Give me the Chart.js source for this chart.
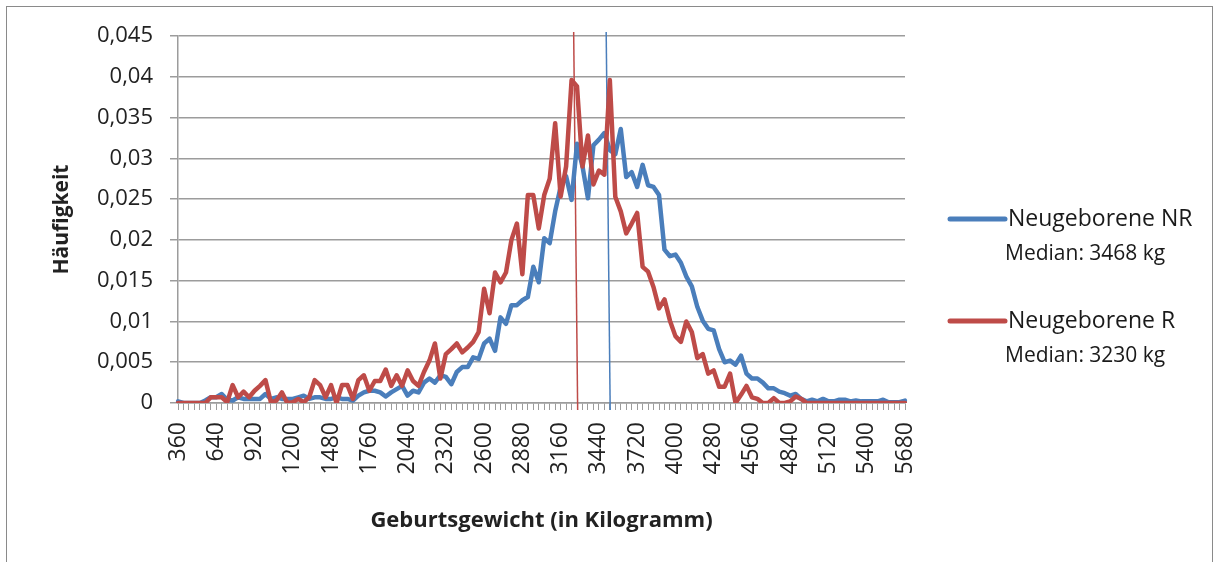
<!DOCTYPE html>
<html>
<head>
<meta charset="utf-8">
<script src="https://cdn.jsdelivr.net/npm/chart.js@4.4.1/dist/chart.umd.min.js"></script>
<style>
  html, body { margin: 0; padding: 0; background: #fff; }
  #wrap { position: relative; width: 1215px; height: 562px; overflow: hidden; }
  #frame { position: absolute; left: 6px; top: 6px; width: 1205px; height: 600px; border: 1px solid #8a8a8a; }
  #chart { position: absolute; left: 0; top: 0; }
</style>
</head>
<body>
<div id="wrap">
  <div id="frame"></div>
  <canvas id="chart" width="1215" height="562"></canvas>
</div>
<script>
// birth weight classes (g), each label is the upper bound of its 40 g class
const categories = [
  360, 400, 440, 480, 520, 560, 600, 640, 680, 720,
  760, 800, 840, 880, 920, 960, 1000, 1040, 1080, 1120,
  1160, 1200, 1240, 1280, 1320, 1360, 1400, 1440, 1480, 1520,
  1560, 1600, 1640, 1680, 1720, 1760, 1800, 1840, 1880, 1920,
  1960, 2000, 2040, 2080, 2120, 2160, 2200, 2240, 2280, 2320,
  2360, 2400, 2440, 2480, 2520, 2560, 2600, 2640, 2680, 2720,
  2760, 2800, 2840, 2880, 2920, 2960, 3000, 3040, 3080, 3120,
  3160, 3200, 3240, 3280, 3320, 3360, 3400, 3440, 3480, 3520,
  3560, 3600, 3640, 3680, 3720, 3760, 3800, 3840, 3880, 3920,
  3960, 4000, 4040, 4080, 4120, 4160, 4200, 4240, 4280, 4320,
  4360, 4400, 4440, 4480, 4520, 4560, 4600, 4640, 4680, 4720,
  4760, 4800, 4840, 4880, 4920, 4960, 5000, 5040, 5080, 5120,
  5160, 5200, 5240, 5280, 5320, 5360, 5400, 5440, 5480, 5520,
  5560, 5600, 5640, 5680
];

const tickLabels = [360, 640, 920, 1200, 1480, 1760, 2040, 2320, 2600, 2880,
  3160, 3440, 3720, 4000, 4280, 4560, 4840, 5120, 5400, 5680];

const seriesNames = ['Neugeborene NR', 'Neugeborene R'];
const medians = [3468, 3230];

const valuesNR = [
  0.0002, 0, 0, 0, 0, 0.0003, 0.0007, 0.0007, 0.0011, 0.0004,
  0.0003, 0.0007, 0.0005, 0.0005, 0.0005, 0.0005, 0.0011, 0.0005, 0.0007, 0.0005,
  0.0005, 0.0005, 0.0007, 0.0009, 0.0005, 0.0007, 0.0007, 0.0005, 0.0005, 0.0007,
  0.0005, 0.0005, 0.0003, 0.0009, 0.0013, 0.0015, 0.0015, 0.0013, 0.0008, 0.0013,
  0.0017, 0.0021, 0.0009, 0.0015, 0.0013, 0.0025, 0.003, 0.0025, 0.0034, 0.0032,
  0.0023, 0.0038, 0.0044, 0.0044, 0.0056, 0.0054, 0.0073, 0.0079, 0.0064, 0.0105,
  0.0097, 0.012, 0.012, 0.0126, 0.013, 0.0167, 0.0148, 0.0202, 0.0196, 0.0235,
  0.0265, 0.0278, 0.0249, 0.0318, 0.029, 0.0251, 0.0316, 0.0323, 0.0331, 0.031,
  0.0305, 0.0336, 0.0277, 0.0283, 0.0265, 0.0292, 0.0267, 0.0265, 0.0255, 0.0188,
  0.018, 0.0182, 0.0172, 0.0155, 0.0143, 0.0118, 0.0101, 0.0091, 0.0089, 0.0066,
  0.005, 0.0052, 0.0047, 0.0058, 0.0036, 0.003, 0.003, 0.0025, 0.0018, 0.0018,
  0.0014, 0.0012, 0.0009, 0.0011, 0.0005, 0.0002, 0.0004, 0.0002, 0.0005, 0.0002,
  0.0002, 0.0004, 0.0004, 0.0002, 0.0003, 0.0002, 0.0002, 0.0002, 0.0002, 0.0004,
  0.0001, 0.0001, 0.0001, 0.0003
];

const valuesR = [
  0, 0, 0, 0, 0, 0, 0.0007, 0.0007, 0.0007, 0.0001,
  0.0022, 0.0007, 0.0014, 0.0007, 0.0015, 0.0021, 0.0028, 0.0001, 0.0003, 0.0013,
  0, 0.0001, 0.0005, 0.0001, 0.0007, 0.0028, 0.0022, 0.0007, 0.0022, 0,
  0.0022, 0.0022, 0.0005, 0.0028, 0.0034, 0.0015, 0.0027, 0.0027, 0.0041, 0.0021,
  0.0034, 0.0021, 0.004, 0.0027, 0.0021, 0.0038, 0.0052, 0.0073, 0.003, 0.006,
  0.0066, 0.0073, 0.0062, 0.0068, 0.0075, 0.0087, 0.014, 0.011, 0.016, 0.0148,
  0.016, 0.02, 0.022, 0.0158, 0.0255, 0.0255, 0.0214, 0.0255, 0.0275, 0.0343,
  0.0253, 0.029, 0.0396, 0.0388, 0.029, 0.0328, 0.0268, 0.0285, 0.028, 0.0396,
  0.0253, 0.0235, 0.0208, 0.022, 0.0233, 0.0167, 0.0161, 0.0142, 0.0116, 0.0127,
  0.0101, 0.0082, 0.0075, 0.01, 0.0087, 0.0055, 0.006, 0.0036, 0.004, 0.002,
  0.002, 0.0036, 0, 0.001, 0.0021, 0.0007, 0.0005, 0, 0, 0.0006,
  0, 0, 0.0002, 0.0008, 0.0005, 0, 0, 0, 0, 0,
  0, 0, 0, 0, 0, 0, 0, 0, 0, 0,
  0, 0, 0, 0
];

const colors = ['#4a7ebb', '#be4b48'];
const FONT = '"Open Sans", "Liberation Sans", sans-serif';
const gridGrey = '#9c9c9c';

// vertical median markers, drawn under the series
const medianLines = {
  id: 'medianLines',
  beforeDatasetsDraw(chart) {
    const { ctx, chartArea, scales } = chart;
    const step = categories[1] - categories[0];
    medians.forEach((m, i) => {
      // class labels are upper bounds, so shift by one class
      const px = scales.x.getPixelForValue((m - categories[0]) / step + 1);
      ctx.save();
      ctx.strokeStyle = colors[i];
      ctx.lineWidth = 1.5;
      ctx.beginPath();
      ctx.moveTo(px - 2, chartArea.top - 4);
      ctx.lineTo(px + 2, chartArea.bottom + 7);
      ctx.stroke();
      ctx.restore();
    });
  }
};

// legend on the right with the median under each entry
const sideLegend = {
  id: 'sideLegend',
  afterDraw(chart) {
    const { ctx, chartArea } = chart;
    const x0 = chartArea.right + 45;
    const rowY = [chartArea.top + 183, chartArea.top + 285];
    seriesNames.forEach((name, i) => {
      const y = rowY[i];
      ctx.save();
      ctx.strokeStyle = colors[i];
      ctx.lineWidth = 5;
      ctx.lineCap = 'round';
      ctx.beginPath();
      ctx.moveTo(x0, y);
      ctx.lineTo(x0 + 55, y);
      ctx.stroke();
      ctx.fillStyle = '#1a1a1a';
      ctx.textBaseline = 'middle';
      ctx.textAlign = 'left';
      ctx.font = '23px ' + FONT;
      ctx.fillText(name, x0 + 58, y);
      ctx.font = '21px ' + FONT;
      ctx.fillText('Median: ' + medians[i] + ' kg', x0 + 55, y + 35);
      ctx.restore();
    });
  }
};

new Chart(document.getElementById('chart'), {
  type: 'line',
  data: {
    labels: categories,
    datasets: [
      { label: seriesNames[0], data: valuesNR, borderColor: colors[0], order: 1 },
      { label: seriesNames[1], data: valuesR, borderColor: colors[1], order: 0 }
    ]
  },
  options: {
    responsive: false,
    animation: false,
    layout: { padding: { left: 0, right: 310, top: 36, bottom: 0 } },
    elements: {
      line: { borderWidth: 4.5, tension: 0, borderJoinStyle: 'round', borderCapStyle: 'round', fill: false },
      point: { radius: 0 }
    },
    plugins: {
      legend: { display: false },
      tooltip: { enabled: false }
    },
    scales: {
      x: {
        offset: false,
        afterFit: s => { s.height = 159; },
        grid: { drawOnChartArea: false, drawTicks: true, tickLength: 7, color: gridGrey, lineWidth: 1 },
        border: { color: gridGrey, width: 1.5 },
        ticks: {
          autoSkip: false,
          maxRotation: 90,
          minRotation: 90,
          padding: 12,
          color: '#222',
          font: { family: FONT, size: 23 },
          callback: function (val, index) {
            const c = categories[index];
            return tickLabels.includes(c) ? String(c) : '';
          }
        },
        title: {
          display: true,
          text: 'Geburtsgewicht (in Kilogramm)',
          color: '#222',
          font: { family: FONT, size: 22, weight: 'bold' },
          padding: { top: 0, bottom: 28 }
        }
      },
      y: {
        min: 0,
        max: 0.045,
        afterFit: s => { s.width = 178; },
        grid: { color: gridGrey, lineWidth: 1.5, tickLength: 8 },
        border: { color: gridGrey, width: 1.5 },
        ticks: {
          stepSize: 0.005,
          padding: 17,
          color: '#222',
          font: { family: FONT, size: 22 },
          callback: v => String(Math.round(v * 1000) / 1000).replace('.', ',')
        },
        title: {
          display: true,
          text: 'Häufigkeit',
          color: '#222',
          font: { family: FONT, size: 21, weight: 'bold' },
          padding: { top: 49, bottom: 0 }
        }
      }
    }
  },
  plugins: [medianLines, sideLegend]
});
</script>
</body>
</html>
